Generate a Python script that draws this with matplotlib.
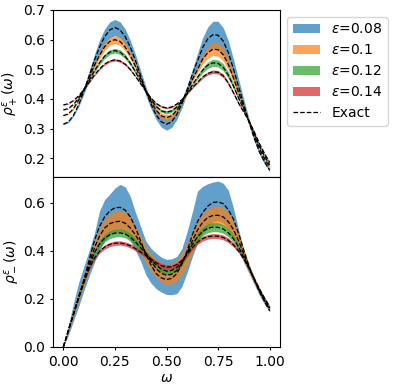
import numpy as np
import matplotlib
matplotlib.use("Agg")
import matplotlib.pyplot as plt

# frequency grid (values read every 0.025)
omega = np.linspace(0, 1, 41)
eps_values = [0.08, 0.1, 0.12, 0.14]
colors = ['tab:blue', 'tab:orange', 'tab:green', 'tab:red']

# ---- rho_+ ----
top_exact = [
    [0.315, 0.323, 0.346, 0.382, 0.427, 0.478, 0.529, 0.574, 0.610, 0.633, 0.641,
     0.633, 0.610, 0.574, 0.529, 0.478, 0.427, 0.382, 0.346, 0.323, 0.315,
     0.323, 0.348, 0.385, 0.432, 0.482, 0.528, 0.573, 0.603, 0.617, 0.615,
     0.595, 0.556, 0.500, 0.440, 0.380, 0.322, 0.268, 0.222, 0.188, 0.160],
    [0.344, 0.350, 0.368, 0.397, 0.432, 0.472, 0.512, 0.547, 0.576, 0.594, 0.600,
     0.594, 0.575, 0.546, 0.509, 0.469, 0.428, 0.391, 0.362, 0.343, 0.337,
     0.343, 0.362, 0.390, 0.426, 0.465, 0.499, 0.534, 0.556, 0.568, 0.566,
     0.549, 0.516, 0.470, 0.420, 0.372, 0.324, 0.278, 0.234, 0.199, 0.170],
    [0.363, 0.368, 0.382, 0.404, 0.432, 0.463, 0.494, 0.522, 0.544, 0.558, 0.563,
     0.558, 0.543, 0.520, 0.491, 0.459, 0.427, 0.398, 0.375, 0.360, 0.355,
     0.360, 0.373, 0.394, 0.420, 0.447, 0.473, 0.497, 0.514, 0.522, 0.520,
     0.507, 0.480, 0.443, 0.402, 0.364, 0.325, 0.283, 0.242, 0.208, 0.178],
    [0.380, 0.384, 0.395, 0.411, 0.432, 0.456, 0.480, 0.501, 0.518, 0.528, 0.532,
     0.528, 0.517, 0.499, 0.476, 0.451, 0.426, 0.403, 0.385, 0.374, 0.370,
     0.373, 0.383, 0.398, 0.417, 0.438, 0.456, 0.474, 0.486, 0.492, 0.490,
     0.478, 0.453, 0.420, 0.385, 0.355, 0.325, 0.290, 0.250, 0.216, 0.186],
]
# half width of the reconstruction band
top_std = [
    [0.002, 0.003, 0.004, 0.007, 0.010, 0.015, 0.020, 0.024, 0.026, 0.027, 0.027,
     0.027, 0.026, 0.023, 0.020, 0.017, 0.015, 0.015, 0.016, 0.018, 0.020,
     0.019, 0.017, 0.015, 0.013, 0.017, 0.025, 0.033, 0.040, 0.045, 0.047,
     0.045, 0.040, 0.033, 0.025, 0.018, 0.012, 0.010, 0.008, 0.007, 0.006],
    [0.002, 0.002, 0.003, 0.004, 0.006, 0.008, 0.010, 0.012, 0.013, 0.013, 0.013,
     0.013, 0.013, 0.012, 0.010, 0.008, 0.007, 0.007, 0.008, 0.009, 0.010,
     0.009, 0.008, 0.007, 0.006, 0.008, 0.012, 0.016, 0.019, 0.021, 0.022,
     0.021, 0.019, 0.016, 0.012, 0.009, 0.006, 0.005, 0.005, 0.004, 0.004],
    [0.001, 0.001, 0.002, 0.003, 0.004, 0.005, 0.006, 0.007, 0.008, 0.008, 0.008,
     0.008, 0.008, 0.007, 0.006, 0.005, 0.004, 0.004, 0.005, 0.005, 0.006,
     0.005, 0.005, 0.004, 0.004, 0.005, 0.007, 0.009, 0.011, 0.012, 0.012,
     0.012, 0.011, 0.009, 0.007, 0.005, 0.004, 0.003, 0.003, 0.003, 0.003],
    [0.001, 0.001, 0.001, 0.002, 0.002, 0.003, 0.003, 0.004, 0.004, 0.004, 0.004,
     0.004, 0.004, 0.004, 0.003, 0.003, 0.002, 0.002, 0.003, 0.003, 0.003,
     0.003, 0.003, 0.002, 0.002, 0.003, 0.004, 0.005, 0.005, 0.006, 0.006,
     0.006, 0.005, 0.005, 0.004, 0.003, 0.002, 0.002, 0.002, 0.002, 0.002],
]

# ---- rho_- ----
bot_exact = [
    [0.000, 0.070, 0.140, 0.210, 0.280, 0.360, 0.440, 0.500, 0.540, 0.565, 0.578,
     0.580, 0.568, 0.540, 0.495, 0.440, 0.385, 0.340, 0.305, 0.287, 0.280,
     0.285, 0.305, 0.345, 0.400, 0.465, 0.520, 0.558, 0.585, 0.600, 0.603,
     0.595, 0.570, 0.530, 0.470, 0.400, 0.335, 0.280, 0.230, 0.188, 0.150],
    [0.000, 0.070, 0.140, 0.208, 0.276, 0.345, 0.410, 0.460, 0.494, 0.512, 0.520,
     0.522, 0.514, 0.494, 0.465, 0.428, 0.390, 0.355, 0.325, 0.306, 0.298,
     0.302, 0.318, 0.348, 0.392, 0.440, 0.485, 0.518, 0.538, 0.546, 0.547,
     0.540, 0.520, 0.487, 0.440, 0.385, 0.330, 0.280, 0.233, 0.193, 0.156],
    [0.000, 0.070, 0.139, 0.207, 0.273, 0.335, 0.390, 0.428, 0.452, 0.466, 0.473,
     0.474, 0.469, 0.456, 0.436, 0.412, 0.388, 0.363, 0.340, 0.323, 0.315,
     0.318, 0.330, 0.353, 0.388, 0.425, 0.457, 0.480, 0.493, 0.498, 0.497,
     0.490, 0.474, 0.449, 0.414, 0.372, 0.327, 0.281, 0.237, 0.198, 0.162],
    [0.000, 0.070, 0.138, 0.205, 0.270, 0.325, 0.368, 0.397, 0.415, 0.426, 0.431,
     0.432, 0.428, 0.420, 0.408, 0.394, 0.380, 0.365, 0.350, 0.338, 0.332,
     0.333, 0.342, 0.360, 0.385, 0.412, 0.435, 0.450, 0.458, 0.461, 0.460,
     0.455, 0.443, 0.424, 0.398, 0.365, 0.326, 0.284, 0.242, 0.203, 0.168],
]
bot_lo = [
    [0.000, 0.050, 0.110, 0.170, 0.235, 0.295, 0.350, 0.400, 0.440, 0.465, 0.480,
     0.485, 0.475, 0.440, 0.400, 0.356, 0.300, 0.265, 0.242, 0.228, 0.218,
     0.217, 0.222, 0.252, 0.310, 0.375, 0.430, 0.475, 0.505, 0.520, 0.525,
     0.515, 0.490, 0.450, 0.400, 0.350, 0.305, 0.260, 0.215, 0.178, 0.145],
    [0.000, 0.060, 0.125, 0.190, 0.255, 0.320, 0.380, 0.425, 0.455, 0.470, 0.478,
     0.478, 0.470, 0.452, 0.425, 0.390, 0.350, 0.315, 0.290, 0.268, 0.260,
     0.262, 0.272, 0.300, 0.340, 0.390, 0.435, 0.470, 0.492, 0.505, 0.508,
     0.500, 0.482, 0.452, 0.410, 0.360, 0.310, 0.265, 0.222, 0.185, 0.150],
    [0.000, 0.066, 0.133, 0.199, 0.263, 0.323, 0.376, 0.413, 0.436, 0.450, 0.457,
     0.458, 0.453, 0.440, 0.421, 0.398, 0.375, 0.350, 0.327, 0.310, 0.302,
     0.305, 0.317, 0.339, 0.373, 0.409, 0.440, 0.462, 0.474, 0.479, 0.478,
     0.472, 0.457, 0.434, 0.401, 0.361, 0.318, 0.273, 0.230, 0.192, 0.157],
    [0.000, 0.068, 0.135, 0.201, 0.265, 0.319, 0.361, 0.389, 0.406, 0.417, 0.422,
     0.423, 0.419, 0.411, 0.399, 0.385, 0.371, 0.356, 0.341, 0.329, 0.323,
     0.324, 0.333, 0.351, 0.376, 0.403, 0.426, 0.440, 0.448, 0.451, 0.450,
     0.445, 0.433, 0.415, 0.390, 0.358, 0.320, 0.279, 0.238, 0.199, 0.164],
]
bot_hi = [
    [0.005, 0.090, 0.185, 0.270, 0.336, 0.400, 0.470, 0.564, 0.612, 0.635, 0.660,
     0.675, 0.665, 0.625, 0.558, 0.500, 0.440, 0.410, 0.390, 0.373, 0.364,
     0.366, 0.376, 0.410, 0.480, 0.560, 0.647, 0.667, 0.678, 0.685, 0.689,
     0.680, 0.650, 0.575, 0.485, 0.405, 0.342, 0.290, 0.243, 0.200, 0.162],
    [0.003, 0.078, 0.155, 0.230, 0.300, 0.370, 0.435, 0.490, 0.530, 0.550, 0.562,
     0.565, 0.560, 0.535, 0.500, 0.460, 0.415, 0.385, 0.362, 0.348, 0.342,
     0.345, 0.360, 0.390, 0.430, 0.480, 0.522, 0.552, 0.572, 0.583, 0.585,
     0.578, 0.558, 0.520, 0.465, 0.405, 0.345, 0.290, 0.240, 0.198, 0.160],
    [0.002, 0.074, 0.145, 0.215, 0.283, 0.347, 0.404, 0.443, 0.468, 0.482, 0.489,
     0.490, 0.485, 0.472, 0.451, 0.426, 0.401, 0.376, 0.353, 0.336, 0.328,
     0.331, 0.343, 0.367, 0.403, 0.441, 0.474, 0.498, 0.512, 0.517, 0.516,
     0.508, 0.491, 0.464, 0.427, 0.383, 0.336, 0.289, 0.244, 0.204, 0.167],
    [0.001, 0.072, 0.141, 0.209, 0.275, 0.331, 0.375, 0.405, 0.424, 0.435, 0.440,
     0.441, 0.437, 0.429, 0.417, 0.403, 0.389, 0.374, 0.359, 0.347, 0.341,
     0.342, 0.351, 0.369, 0.394, 0.421, 0.444, 0.460, 0.468, 0.471, 0.470,
     0.465, 0.453, 0.433, 0.406, 0.372, 0.332, 0.289, 0.246, 0.207, 0.172],
]

fig = plt.figure(figsize=(3.99, 3.90), dpi=100)
ax1 = fig.add_axes([53 / 399, 1 - 177 / 390, 227 / 399, 167 / 390])
ax2 = fig.add_axes([53 / 399, 1 - 347 / 390, 227 / 399, 170 / 390], sharex=ax1)

for i in range(4):
    ex = np.array(top_exact[i])
    sd = np.array(top_std[i])
    ax1.fill_between(omega, ex - sd, ex + sd, color=colors[i], alpha=0.7,
                     lw=0, label=r'$\epsilon$=' + str(eps_values[i]))
    ax2.fill_between(omega, bot_lo[i], bot_hi[i], color=colors[i], alpha=0.7, lw=0)
for i in range(4):
    ax1.plot(omega, top_exact[i], 'k--', lw=0.9, label='Exact' if i == 0 else None)
    ax2.plot(omega, bot_exact[i], 'k--', lw=0.9)

ax1.set_ylim(0.137, 0.70)
ax2.set_ylim(0.0, 0.706)
ax1.set_xlim(-0.05, 1.05)
ax1.set_yticks([0.2, 0.3, 0.4, 0.5, 0.6, 0.7])
ax2.set_yticks([0.0, 0.2, 0.4, 0.6])
ax2.set_xticks([0.0, 0.25, 0.5, 0.75, 1.0])
ax1.tick_params(bottom=False, labelbottom=False)
for ax in (ax1, ax2):
    ax.tick_params(length=2.5)

ax1.set_ylabel(r'$\rho^\epsilon_+(\omega)$', labelpad=1)
ax2.set_ylabel(r'$\rho^\epsilon_-(\omega)$', labelpad=1)
ax2.set_xlabel(r'$\omega$', labelpad=1)
ax1.legend(loc='upper left', bbox_to_anchor=(1.0, 1.0))

fig.savefig('out.png', dpi=100)
